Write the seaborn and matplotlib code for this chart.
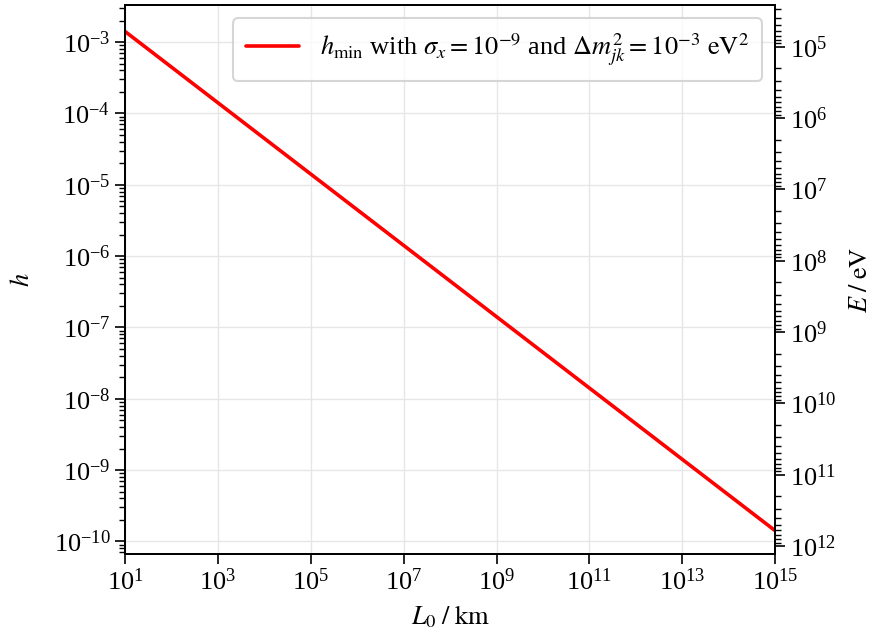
import numpy as np
import pandas as pd
import matplotlib
matplotlib.use('Agg')
import matplotlib.pyplot as plt
import matplotlib.ticker as mticker
import seaborn as sns

# values
L0_km = [1e1, 1e3, 1e5, 1e7, 1e9, 1e11, 1e13, 1e15]
h_min = [1.41e-3, 1.41e-4, 1.41e-5, 1.41e-6, 1.41e-7, 1.41e-8, 1.41e-9, 1.41e-10]
h_limits = [6.6e-11, 3.3e-3]
h_ticks = [1e-10, 1e-9, 1e-8, 1e-7, 1e-6, 1e-5, 1e-4, 1e-3]
E_ticks = [1e5, 1e6, 1e7, 1e8, 1e9, 1e10, 1e11, 1e12]
E_per_h = 86.0  # E = E_per_h / h  (right axis)
legend_label = (r'$h_\mathrm{min}$ with $\sigma_x = 10^{-9}$ and '
                r'$\Delta m^2_{jk} = 10^{-3}\ \mathrm{eV}^2$')

sns.set_style('ticks')
plt.rcParams['font.family'] = ['Liberation Serif', 'DejaVu Serif']
plt.rcParams['mathtext.fontset'] = 'stix'
plt.rcParams['axes.linewidth'] = 1.3
for key in ['text.color', 'axes.labelcolor', 'axes.edgecolor', 'xtick.color', 'ytick.color']:
    plt.rcParams[key] = 'black'

df = pd.DataFrame({'L0': L0_km, 'h': h_min})

fig = plt.figure(figsize=(8.74, 6.32), dpi=100)
ax = fig.add_axes([0.143, 0.123, 0.744, 0.869])
sns.lineplot(data=df, x='L0', y='h', ax=ax, color='red', linewidth=2.6,
             label=legend_label)
ax.set_xscale('log')
ax.set_yscale('log')
ax.set_xlim(L0_km[0], L0_km[-1])
ax.set_ylim(*h_limits)

ax.set_xticks(L0_km)
ax.xaxis.set_minor_locator(mticker.NullLocator())
ax.set_yticks(h_ticks)
ax.yaxis.set_minor_locator(mticker.LogLocator(base=10, subs=np.arange(2, 10), numticks=20))

ax.grid(True, which='major', color='#e6e6e6', linewidth=1.0)
ax.tick_params(which='major', direction='out', length=7, width=1.2, labelsize=19)
ax.tick_params(which='minor', direction='out', length=4, width=1.0)
ax.set_xlabel(r'$L_0\;/\;\mathrm{km}$', fontsize=19, labelpad=6)
ax.set_ylabel(r'$h$', fontsize=19, labelpad=14)

ax2 = ax.twinx()
ax2.set_yscale('log')
ax2.set_ylim(E_per_h / h_limits[0], E_per_h / h_limits[1])
ax2.set_yticks(E_ticks)
ax2.yaxis.set_minor_locator(mticker.LogLocator(base=10, subs=np.arange(2, 10), numticks=20))
ax2.tick_params(which='major', direction='out', length=7, width=1.2, labelsize=19)
ax2.tick_params(which='minor', direction='out', length=4, width=1.0)
ax2.set_ylabel(r'$E\;/\;\mathrm{eV}$', fontsize=19, labelpad=10)

leg = ax.legend(loc='upper right', fontsize=19, frameon=True, fancybox=True,
                framealpha=0.8, edgecolor='#cccccc', handlelength=2.0,
                borderpad=0.5)
leg.get_frame().set_linewidth(1.5)

fig.savefig('out.png', dpi=100)
